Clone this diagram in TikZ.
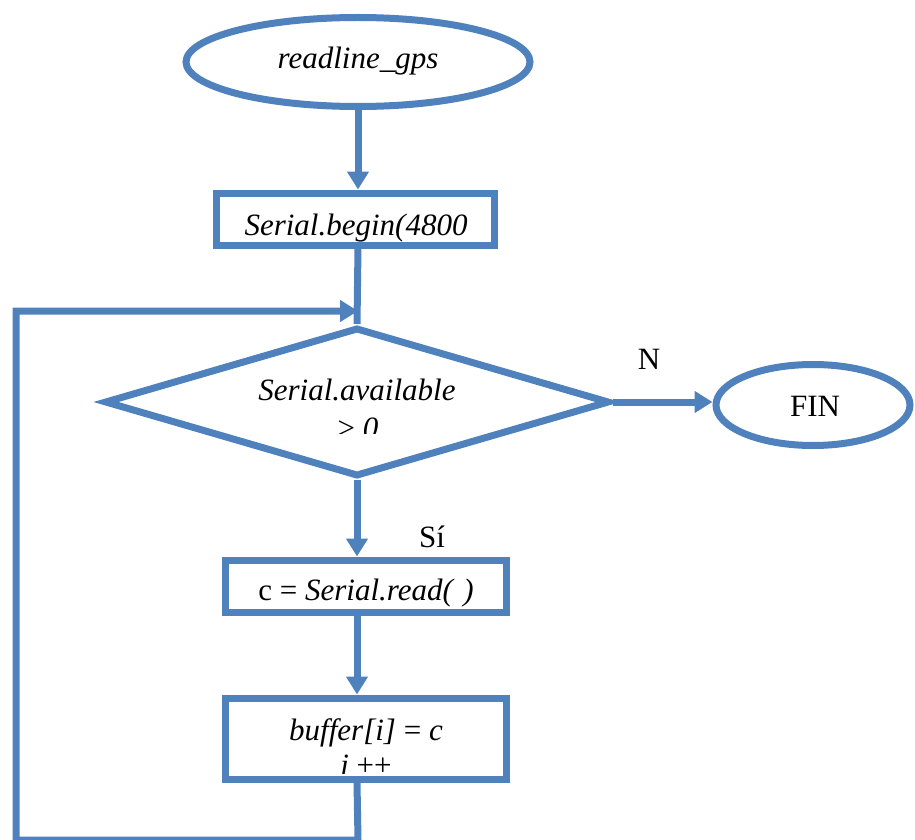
\documentclass[tikz,border=0pt]{standalone}
\usepackage{fontspec}
\setmainfont{Liberation Serif}
\usetikzlibrary{shapes.geometric,arrows.meta}
\definecolor{flow}{HTML}{4F81BD}
\begin{document}
\begin{tikzpicture}[x=1pt,y=-1pt,
  txt/.style={font=\fontsize{31}{36}\selectfont,inner sep=0pt,anchor=base},
  line/.style={draw=flow,line width=7pt},
  arr/.style={line,-{Triangle[length=18pt,width=21pt]}},
  term/.style={ellipse,draw=flow,line width=7pt,fill=white,inner sep=0pt},
  proc/.style={rectangle,draw=flow,line width=7pt,inner sep=0pt},
  dec/.style={diamond,draw=flow,line width=7pt,inner sep=0pt}]
\useasboundingbox (0,0) rectangle (915,840);

% shapes
\node[term,minimum width=344pt,minimum height=89pt] (start) at (358,62) {};
\node[proc,minimum width=278pt,minimum height=52pt] (begin) at (355,219) {};
\node[dec,minimum width=505pt,minimum height=149pt] (avail) at (357,402) {};
\node[term,minimum width=194pt,minimum height=81pt] (fin) at (813,405) {};
\node[proc,minimum width=281pt,minimum height=52pt] (read) at (365.5,586) {};
\node[proc,minimum width=281pt,minimum height=81pt] (store) at (365.5,738.5) {};

% texts
\node[txt] (tstart) at (358,69) {\itshape readline\_gps};
\begin{scope}
  \clip (0,0) rectangle (915,243);
  \node[txt] (tbegin) at (356,235) {\itshape Serial.begin(4800};
\end{scope}
\node[txt] (tavail) at (357,400) {\itshape Serial.available};
\begin{scope}
  \clip (0,300) rectangle (915,433);
  \node[txt] (tcmp) at (358,438) {\textgreater\ \itshape 0};
\end{scope}
\node[txt] (tfin) at (815,416) {FIN};
\node[txt] (tread) at (366,600) {c = \itshape Serial.read(\,\,)};
\node[txt] (tbuf) at (366,740) {\itshape buffer[i] \upshape= \itshape c};
\begin{scope}
  \clip (0,700) rectangle (915,773);
  \node[txt] (tinc) at (366,775) {\itshape i \upshape++};
\end{scope}
\node[txt] (lno) at (649,369) {N};
\node[txt] (lyes) at (432,547) {Sí};

% connectors
\draw[arr] (start.south) -- (start.south |- begin.north);
\draw[line] (start.south |- begin.south) -- (avail.north);
\draw[arr] (avail.east) -- (avail.east -| fin.west);
\draw[arr] (avail.south) -- (avail.south |- read.north);
\draw[arr] (avail.south |- read.south) -- (avail.south |- store.north);

% loop back to the test
\coordinate (lb) at (358,840);
\coordinate (ll) at (16,840);
\coordinate (lt) at (16,311);
\coordinate (lend) at (358,311);
\draw[line,-{Triangle[length=18pt,width=21pt]},line join=miter]
  (avail.south |- store.south) -- (lb) -- (ll) -- (lt) -- (lend);
\end{tikzpicture}
\end{document}
